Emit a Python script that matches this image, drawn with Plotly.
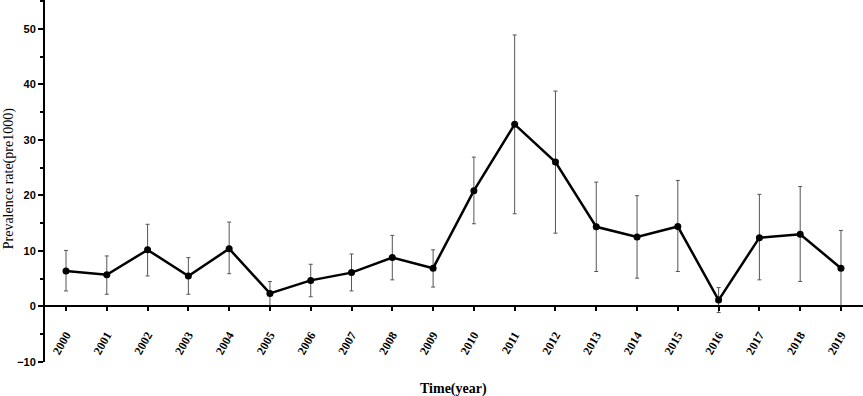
import plotly.graph_objects as go

years = [str(y) for y in range(2000, 2020)]
rate = [6.4, 5.7, 10.2, 5.5, 10.4, 2.35, 4.7, 6.1, 8.8, 6.9,
        20.85, 32.8, 26.0, 14.35, 12.5, 14.4, 1.15, 12.4, 13.0, 6.9]
upper = [10.1, 9.1, 14.8, 8.8, 15.2, 4.5, 7.6, 9.45, 12.8, 10.2,
         26.9, 48.9, 38.8, 22.4, 19.95, 22.7, 3.4, 20.2, 21.6, 13.7]
lower = [2.8, 2.2, 5.5, 2.2, 5.9, 0.0, 1.75, 2.8, 4.8, 3.5,
         14.9, 16.7, 13.2, 6.3, 5.1, 6.3, -1.1, 4.8, 4.5, 0.0]
yticks = [-10, 0, 10, 20, 30, 40, 50]

xi = list(range(len(years)))
err_plus = [u - r for u, r in zip(upper, rate)]
err_minus = [r - l for r, l in zip(rate, lower)]

fig = go.Figure()
fig.add_trace(go.Scatter(
    x=xi, y=rate, mode="lines+markers",
    line=dict(color="black", width=2.5),
    marker=dict(color="black", size=7),
    error_y=dict(type="data", symmetric=False, array=err_plus, arrayminus=err_minus,
                 color="#555555", thickness=1, width=2),
    showlegend=False,
))

ymin, ymax = -10, 55.2
fig.update_layout(
    width=863, height=396,
    margin=dict(l=45, r=0, t=0, b=34),
    plot_bgcolor="white", paper_bgcolor="white",
    xaxis=dict(
        range=[-0.515, 19.54], tickvals=xi, ticktext=years,
        tickangle=-60, showgrid=False, zeroline=False, automargin=False,
        showline=True, linecolor="black", linewidth=2,
        ticks="outside", ticklen=4, tickcolor="black", tickwidth=1.5,
        ticklabelstandoff=12,
        anchor="free", position=(0 - ymin) / (ymax - ymin),
        tickfont=dict(family="Liberation Serif", size=12, color="black", weight="bold"),
    ),
    yaxis=dict(
        range=[ymin, ymax], tickvals=yticks, showgrid=False, zeroline=False,
        automargin=False,
        showline=True, linecolor="black", linewidth=2,
        ticks="outside", ticklen=5, tickcolor="black", tickwidth=2,
        minor=dict(dtick=5, tick0=0, ticks="outside", ticklen=3, tickcolor="black", tickwidth=1.5),
        tickfont=dict(family="Liberation Sans", size=11, color="black", weight="bold"),
    ),
    annotations=[
        dict(text="Time(year)", x=0.4994, y=-27 / 362, xref="paper", yref="paper",
             xanchor="center", yanchor="middle", showarrow=False,
             font=dict(family="Liberation Serif", size=14, color="black", weight="bold")),
        dict(text="Prevalence rate(pre1000)", x=0, y=(23 - ymin) / (ymax - ymin),
             xref="paper", yref="paper", xanchor="center", yanchor="middle",
             xshift=-36.5, textangle=-90, showarrow=False,
             font=dict(family="Liberation Serif", size=14, color="black")),
    ],
)

fig.write_html("out.html", config={"displayModeBar": False},
               post_script="document.body.style.margin='0px';document.body.style.overflow='hidden';")
